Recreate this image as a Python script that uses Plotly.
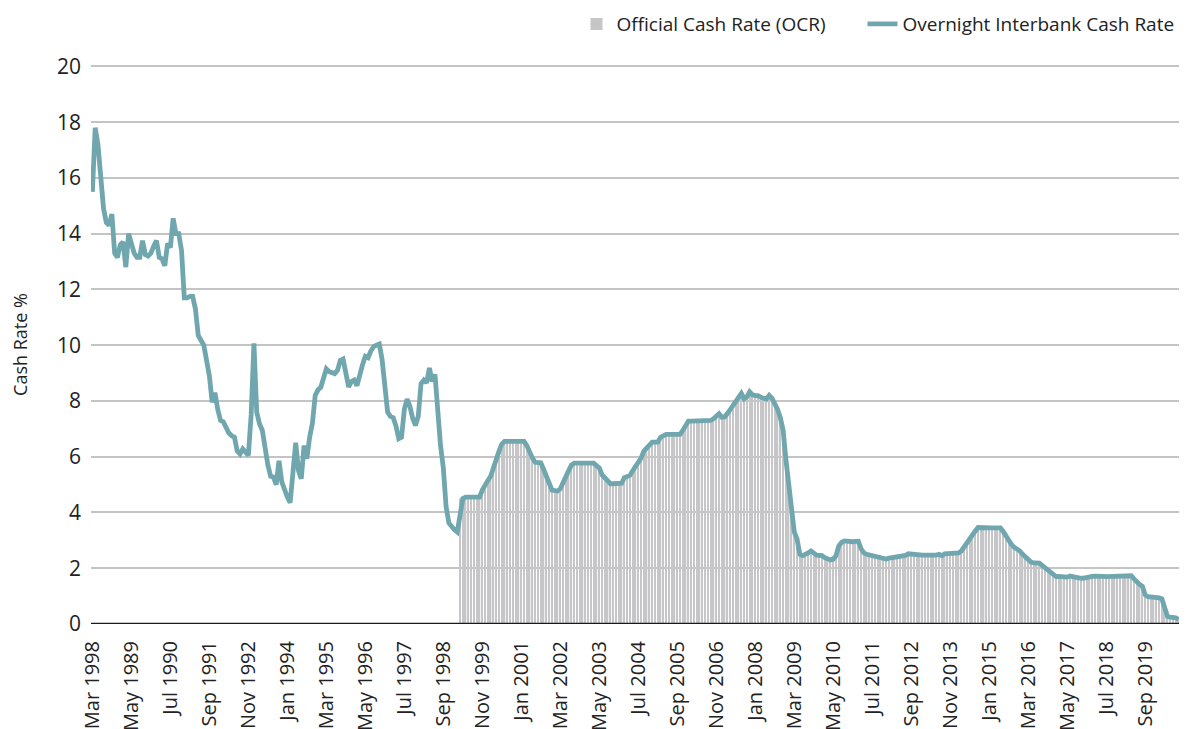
import plotly.graph_objects as go

# Monthly observations, first month = Mar 1988 (labelled "Mar 1998" in the original)
interbank = [
    15.5, 17.8, 17.2, 15.8, 14.9, 14.4, 14.3, 14.7, 13.3, 13.15,
    13.6, 13.7, 12.8, 14.0, 13.7, 13.3, 13.15, 13.15, 13.75, 13.25,
    13.2, 13.3, 13.55, 13.75, 13.15, 13.1, 12.85, 13.65, 13.5, 14.55,
    14.0, 14.0, 13.4, 11.7, 11.7, 11.75, 11.75, 11.3, 10.35, 10.15,
    10.0, 9.45, 8.9, 7.95, 8.3, 7.7, 7.3, 7.25, 7.0, 6.85,
    6.75, 6.7, 6.2, 6.1, 6.28, 6.15, 6.05, 7.5, 10.07, 7.6,
    7.18, 6.95, 6.3, 5.7, 5.3, 5.27, 5.0, 5.85, 5.1, 4.75,
    4.55, 4.35, 5.45, 6.5, 5.5, 5.21, 6.4, 5.93, 6.7, 7.2,
    8.2, 8.4, 8.49, 8.8, 9.15, 9.05, 9.03, 8.98, 9.1, 9.45,
    9.5, 9.0, 8.5, 8.7, 8.75, 8.55, 9.0, 9.3, 9.6, 9.55,
    9.8, 9.95, 10.0, 10.04, 9.5, 8.5, 7.6, 7.45, 7.4, 7.1,
    6.65, 6.7, 7.7, 8.07, 7.8, 7.38, 7.12, 7.45, 8.62, 8.75,
    8.65, 9.18, 8.7, 8.95, 7.6, 6.4, 5.6, 4.2, 3.62, 3.47,
    3.38, 3.3, 3.9, 4.5, 4.55, 4.55, 4.55, 4.55, 4.55, 4.55,
    4.8, 5.0, 5.15, 5.3, 5.55, 5.9, 6.2, 6.45, 6.55, 6.55,
    6.55, 6.55, 6.55, 6.55, 6.55, 6.55, 6.4, 6.15, 5.95, 5.8,
    5.8, 5.78, 5.55, 5.25, 5.05, 4.8, 4.77, 4.77, 4.85, 5.1,
    5.35, 5.5, 5.7, 5.77, 5.77, 5.77, 5.77, 5.77, 5.77, 5.77,
    5.77, 5.68, 5.6, 5.35, 5.25, 5.1, 5.03, 5.03, 5.03, 5.03,
    5.05, 5.25, 5.3, 5.33, 5.5, 5.65, 5.78, 5.95, 6.2, 6.3,
    6.45, 6.52, 6.52, 6.52, 6.7, 6.75, 6.8, 6.8, 6.8, 6.8,
    6.8, 6.8, 6.95, 7.15, 7.28, 7.28, 7.28, 7.28, 7.28, 7.28,
    7.28, 7.28, 7.3, 7.36, 7.45, 7.54, 7.42, 7.43, 7.55, 7.7,
    7.84, 8.0, 8.15, 8.27, 8.08, 8.15, 8.33, 8.22, 8.19, 8.19,
    8.13, 8.1, 8.07, 8.2, 8.1, 7.9, 7.7, 7.4, 6.95, 5.9,
    4.9, 4.2, 3.3, 3.05, 2.5, 2.45, 2.48, 2.55, 2.62, 2.55,
    2.47, 2.46, 2.45, 2.38, 2.33, 2.3, 2.33, 2.45, 2.8, 2.93,
    2.98, 2.96, 2.95, 2.95, 2.96, 2.97, 2.7, 2.55, 2.5, 2.48,
    2.47, 2.45, 2.42, 2.4, 2.35, 2.33, 2.36, 2.38, 2.4, 2.43,
    2.44, 2.43, 2.46, 2.52, 2.5, 2.5, 2.49, 2.48, 2.47, 2.47,
    2.45, 2.44, 2.46, 2.47, 2.5, 2.45, 2.52, 2.53, 2.53, 2.54,
    2.55, 2.55, 2.62, 2.78, 2.93, 3.06, 3.21, 3.34, 3.46, 3.45,
    3.44, 3.44, 3.44, 3.45, 3.45, 3.46, 3.45, 3.32, 3.15, 2.98,
    2.85, 2.75, 2.7, 2.62, 2.5, 2.4, 2.29, 2.22, 2.19, 2.18,
    2.18, 2.1, 2.02, 1.93, 1.83, 1.74, 1.7, 1.71, 1.7, 1.65,
    1.68, 1.72, 1.69, 1.66, 1.65, 1.64, 1.65, 1.68, 1.7, 1.71,
    1.72, 1.73, 1.73, 1.71, 1.7, 1.7, 1.71, 1.7, 1.7, 1.71,
    1.73, 1.73, 1.74, 1.73, 1.62, 1.5, 1.42, 1.35, 1.05, 0.98,
    0.98, 0.97, 0.96, 0.94, 0.9, 0.55, 0.27, 0.25, 0.25, 0.22,
    0.16,
]

# OCR, first month = Mar 1999 (month index 132)
ocr_start = 132
ocr = [
    4.5, 4.5, 4.5, 4.5, 4.5, 4.5, 4.5, 4.5,
    4.75, 5.0, 5.15, 5.25, 5.5, 5.85, 6.2, 6.45,
    6.5, 6.5, 6.5, 6.5, 6.5, 6.5, 6.5, 6.5,
    6.4, 6.1, 5.9, 5.75, 5.75, 5.75,
    5.5, 5.25, 5.0, 4.75, 4.75, 4.75,
    4.85, 5.05, 5.3, 5.5, 5.7,
    5.75, 5.75, 5.75, 5.75, 5.75, 5.75, 5.75, 5.75,
    5.65, 5.55, 5.3, 5.25, 5.05,
    5.0, 5.0, 5.0, 5.0, 5.0,
    5.25, 5.25, 5.25, 5.5, 5.6, 5.75, 5.9, 6.15, 6.25, 6.45,
    6.5, 6.5, 6.5,
    6.7, 6.75, 6.75, 6.75, 6.75, 6.75, 6.75, 6.75,
    6.9, 7.1,
    7.25, 7.25, 7.25, 7.25, 7.25, 7.25, 7.25, 7.25, 7.25,
    7.3, 7.4, 7.5, 7.4, 7.4, 7.5, 7.65, 7.8, 7.95, 8.1,
    8.25, 8.05, 8.1, 8.25, 8.2, 8.15, 8.15, 8.1, 8.05, 8.05,
    8.15, 8.05, 7.85, 7.65, 7.35, 6.9, 5.85, 4.85, 4.15, 3.25, 3.0,
    2.5, 2.45, 2.45, 2.5, 2.5, 2.5, 2.45, 2.45, 2.45, 2.35, 2.3, 2.3, 2.3, 2.45,
    2.75, 2.9, 2.95, 2.95, 2.95, 2.95, 2.95, 2.95,
    2.7, 2.5, 2.5, 2.45, 2.45, 2.45, 2.4, 2.4, 2.35, 2.3,
    2.35, 2.35, 2.4, 2.4, 2.4, 2.4, 2.45, 2.5, 2.5, 2.5,
    2.45, 2.45, 2.45, 2.45, 2.45, 2.4, 2.45, 2.45, 2.5, 2.45,
    2.5, 2.5, 2.5, 2.5, 2.5, 2.5,
    2.6, 2.75, 2.9, 3.0, 3.2, 3.3, 3.45,
    3.45, 3.4, 3.4, 3.4, 3.45, 3.45, 3.45, 3.45,
    3.3, 3.1, 2.95, 2.85, 2.75, 2.7, 2.6, 2.5, 2.4, 2.25,
    2.2, 2.15, 2.15, 2.15, 2.1, 2.0, 1.9, 1.8, 1.75,
    1.7, 1.7, 1.7, 1.65, 1.65, 1.7, 1.65, 1.65, 1.65, 1.6,
    1.65, 1.65, 1.7, 1.7, 1.7, 1.7, 1.7, 1.7, 1.7, 1.7,
    1.7, 1.7, 1.7, 1.7, 1.7, 1.7, 1.7, 1.7,
    1.6, 1.5, 1.4, 1.35, 1.0, 0.95, 0.95, 0.95, 0.95, 0.9,
    0.9, 0.5, 0.25, 0.25, 0.25, 0.2, 0.15,
]

tick_labels = [
    "Mar 1998", "May 1989", "Jul 1990", "Sep 1991", "Nov 1992", "Jan 1994",
    "Mar 1995", "May 1996", "Jul 1997", "Sep 1998", "Nov 1999", "Jan 2001",
    "Mar 2002", "May 2003", "Jul 2004", "Sep 2005", "Nov 2006", "Jan 2008",
    "Mar 2009", "May 2010", "Jul 2011", "Sep 2012", "Nov 2013", "Jan 2015",
    "Mar 2016", "May 2017", "Jul 2018", "Sep 2019",
]
tick_step = 14

assert len(ocr) == len(interbank) - ocr_start, (len(ocr), len(interbank))

months = list(range(len(interbank)))
ocr_months = months[ocr_start:]
tick_vals = [i * tick_step for i in range(len(tick_labels))]

FONT = "Open Sans"
TEAL = "#70a7af"
TXT = "#222222"

fig = go.Figure()
fig.add_trace(go.Bar(
    x=ocr_months, y=ocr, name="Official Cash Rate (OCR)",
    marker=dict(color="#c6c6c9", line=dict(width=0)),
    legendwidth=241, hoverinfo="skip",
))
fig.add_trace(go.Scatter(
    x=months, y=interbank, mode="lines", name="Overnight Interbank Cash Rate",
    line=dict(color=TEAL, width=4.8), legendwidth=300, hoverinfo="skip",
))

# the page body adds an 8px offset, margins compensate for it
fig.update_layout(
    width=1187, height=729,
    margin=dict(l=83, r=15, t=57, b=113, autoexpand=False),
    paper_bgcolor="white", plot_bgcolor="white",
    font=dict(family=FONT, size=17, color=TXT),
    bargap=0.5,
    showlegend=True,
    legend=dict(
        orientation="h", x=0.4458, xanchor="left", y=1.0733, yanchor="middle",
        font=dict(size=19, color=TXT), itemwidth=30,
        traceorder="normal", bgcolor="rgba(0,0,0,0)",
    ),
    xaxis=dict(
        range=[-0.5, len(interbank) - 0.5], automargin=False,
        tickmode="array", tickvals=tick_vals, ticktext=tick_labels,
        tickangle=-90, showgrid=False, zeroline=False, showline=False,
        ticks="", ticklabelstandoff=12, tickfont=dict(size=20, color=TXT),
    ),
    yaxis=dict(
        range=[0, 20.05], dtick=2, tick0=0, automargin=False,
        showgrid=True, gridcolor="#c4c4c4", gridwidth=1.5,
        zeroline=False, showline=False, ticks="", ticklabelstandoff=9,
        tickfont=dict(size=21, color=TXT),
        title=dict(text="Cash Rate %", font=dict(size=18, color=TXT), standoff=24),
    ),
)
# Black zero baseline
fig.add_shape(type="line", xref="paper", yref="y", x0=0, x1=1, y0=0, y1=0,
              line=dict(color="#1a1a1a", width=2.5), layer="above")

fig.write_html("out.html")
